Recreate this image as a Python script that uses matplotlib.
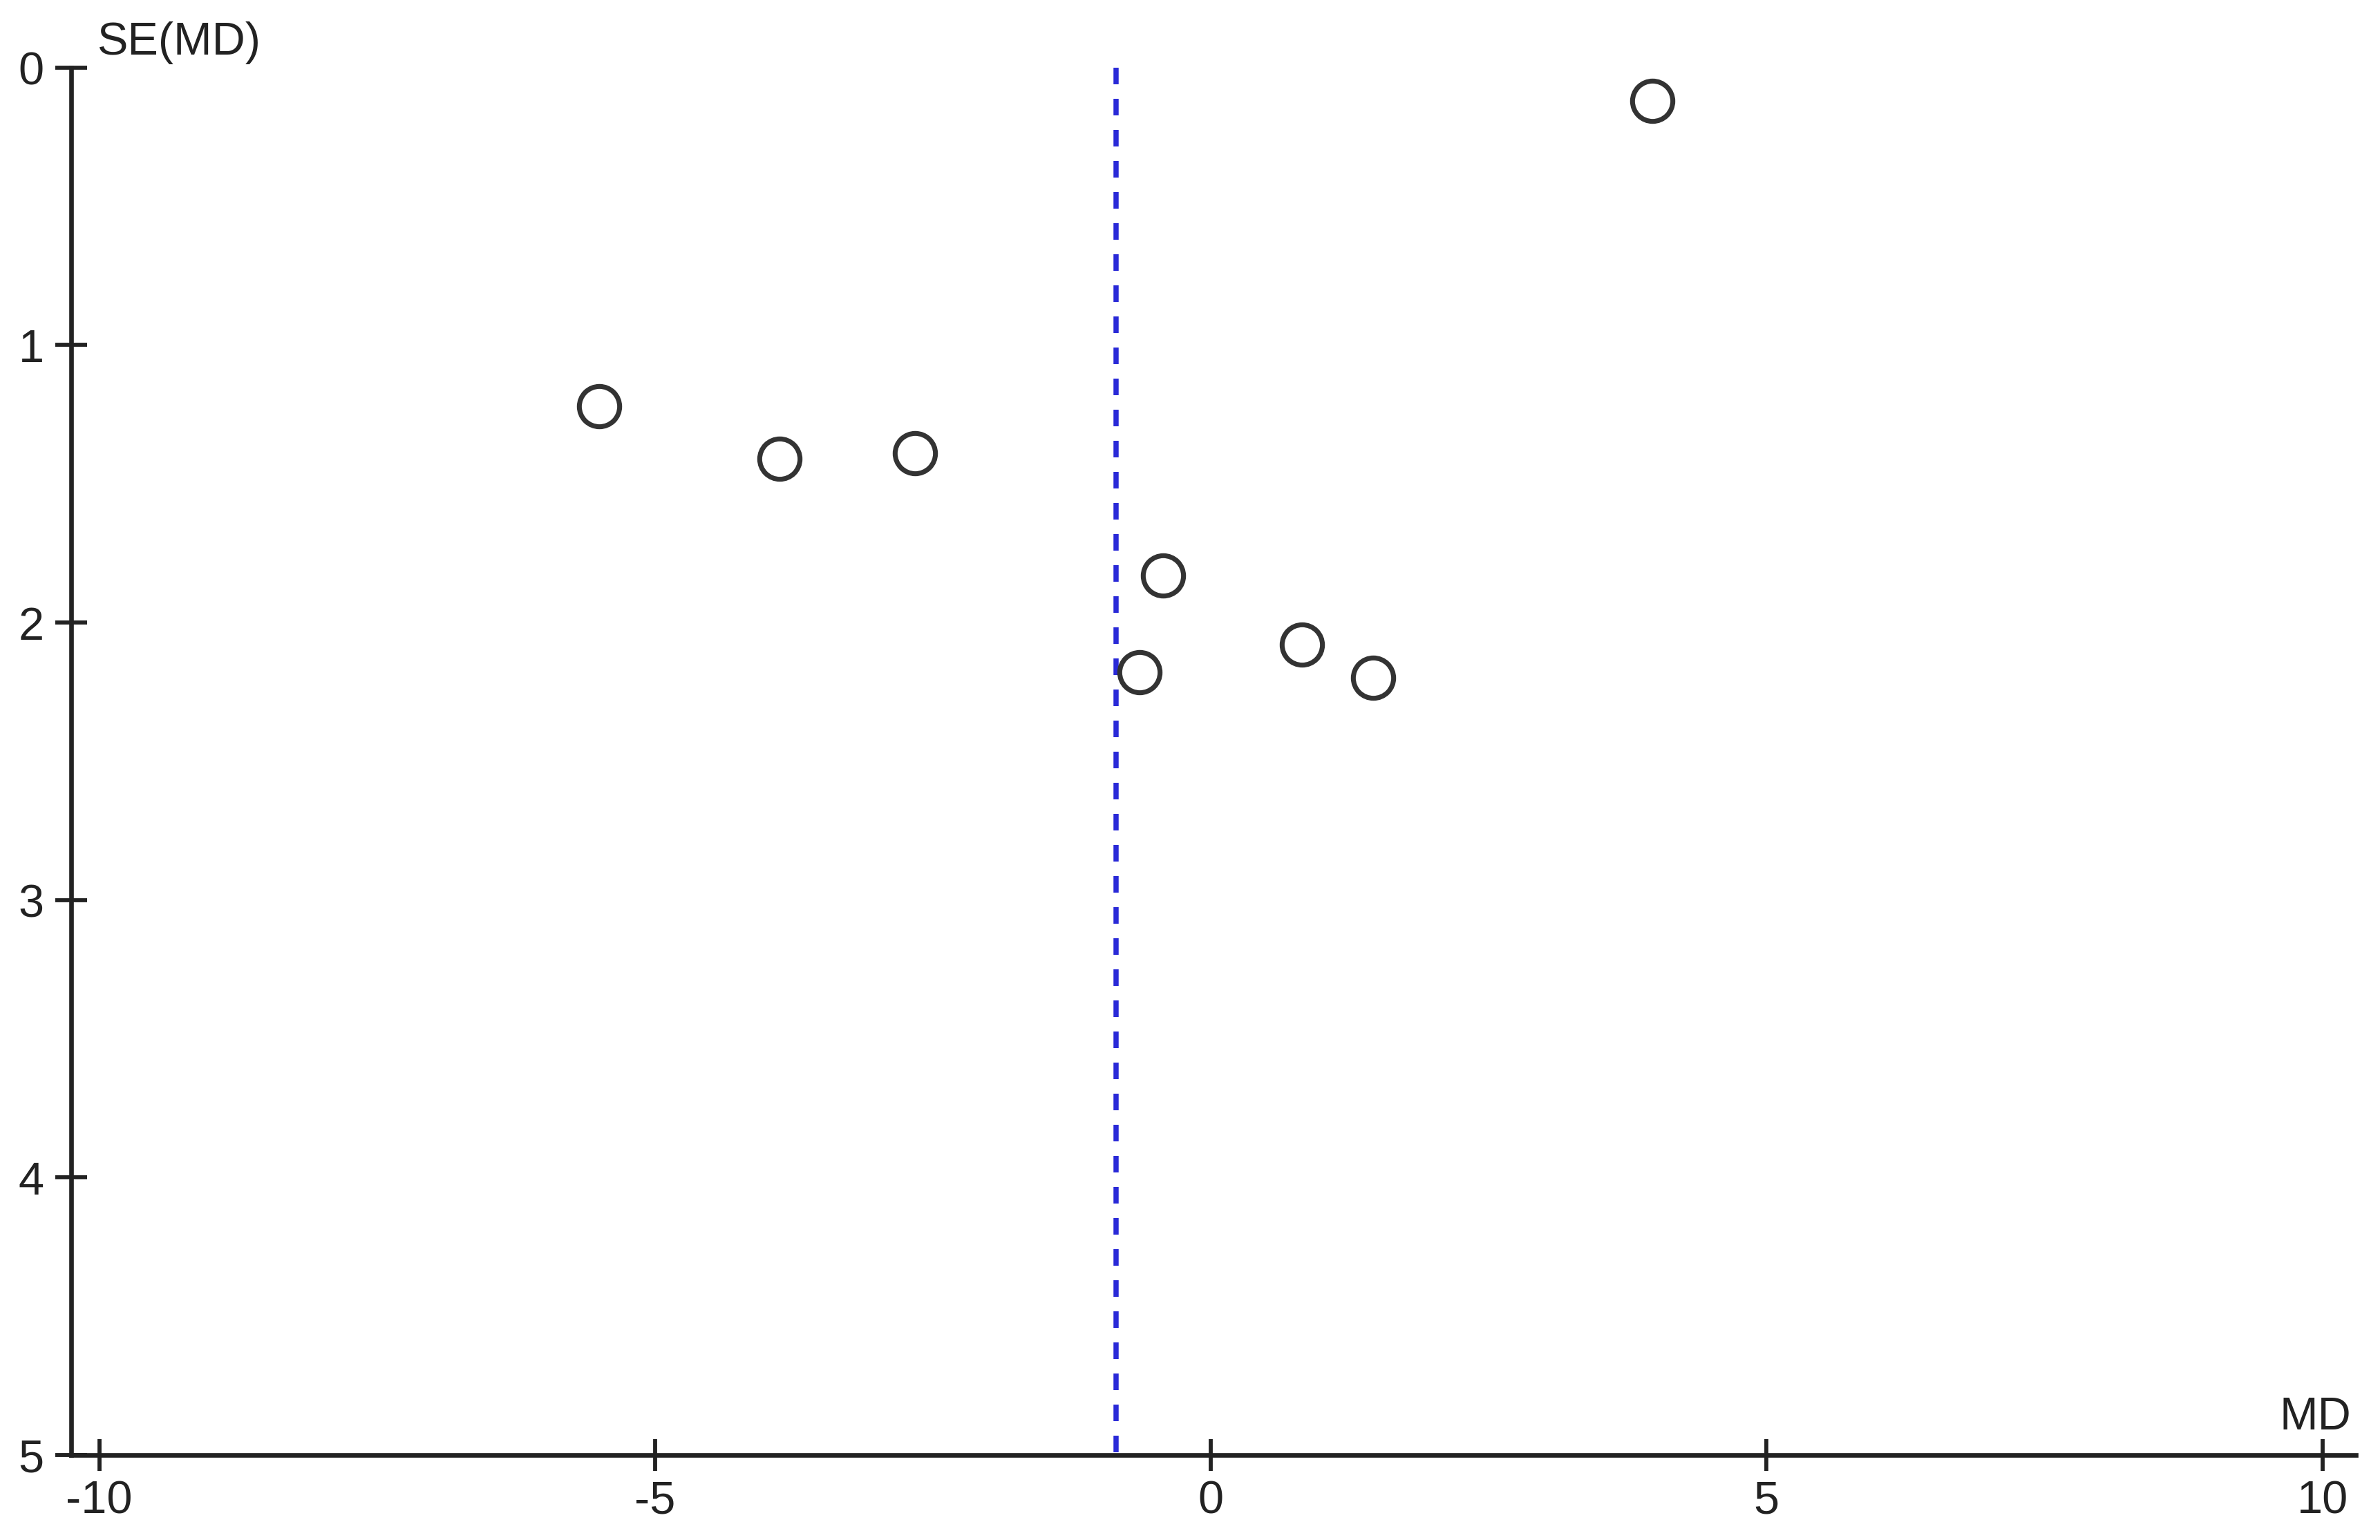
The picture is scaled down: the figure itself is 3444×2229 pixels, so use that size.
"""Funnel plot of mean difference (MD) against its standard error."""

import matplotlib

matplotlib.use("Agg")
import matplotlib.pyplot as plt

# study estimates
md = [3.97, -5.50, -3.88, -2.66, -0.43, -0.64, 0.82, 1.46]
se_md = [0.12, 1.22, 1.41, 1.39, 1.83, 2.18, 2.08, 2.20]
pooled_md = -0.85

x_ticks = [-10, -5, 0, 5, 10]
y_ticks = [0, 1, 2, 3, 4, 5]


def main() -> None:
    plt.rcParams.update({"font.family": ["Liberation Sans", "DejaVu Sans"], "font.size": 16})

    fig = plt.figure(figsize=(11.48, 7.4333), dpi=300)
    ax = fig.add_axes([0.030, 0.0552, 0.9598, 0.9005])

    ax.plot([pooled_md, pooled_md], [0, 5], color="#2a2ad8", lw=1.8,
            linestyle=(0, (3.2, 2.8)), zorder=1)
    ax.plot(md, se_md, linestyle="none", marker="o", markersize=14,
            markerfacecolor="white", markeredgecolor="#333333", markeredgewidth=1.7, zorder=3)

    ax.set_xlim(-10.25, 10.3)
    ax.set_ylim(5, 0)
    ax.set_xticks(x_ticks)
    ax.set_yticks(y_ticks)
    ax.set_xticklabels([str(v) for v in x_ticks])
    ax.set_yticklabels([str(v) for v in y_ticks])

    for side in ("top", "right"):
        ax.spines[side].set_visible(False)
    for side in ("left", "bottom"):
        ax.spines[side].set_linewidth(1.6)
        ax.spines[side].set_color("#222222")
    ax.tick_params(direction="inout", length=11, width=1.4, color="#222222",
                   labelsize=16, labelcolor="#222222")
    ax.tick_params(axis="x", pad=3)
    ax.tick_params(axis="y", pad=4)

    ax.text(0.011, 1.003, "SE(MD)", transform=ax.transAxes, ha="left", va="bottom",
            fontsize=16, color="#222222")
    ax.text(0.998, 0.012, "MD", transform=ax.transAxes, ha="right", va="bottom",
            fontsize=16, color="#222222")

    fig.savefig("out.png", dpi=300, facecolor="white")
    plt.close(fig)


if __name__ == "__main__":
    main()
